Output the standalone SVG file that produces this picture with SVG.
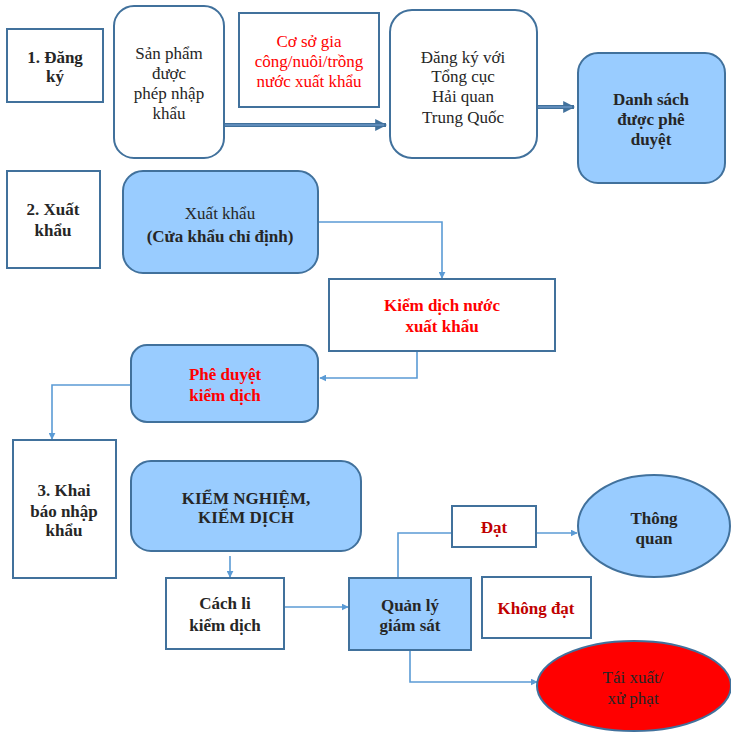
<svg xmlns="http://www.w3.org/2000/svg" width="731" height="732" viewBox="0 0 731 732" font-family="'Liberation Serif', 'DejaVu Serif', serif">
<style>
.box{fill:#ffffff;stroke:#41719C;stroke-width:2}
.blue{fill:#99CCFF;stroke:#41719C;stroke-width:2}
.red{fill:#FF0000;stroke:#41719C;stroke-width:2}
text{font-family:'Liberation Serif','DejaVu Serif',serif;font-size:17px;text-anchor:middle;fill:#262626}
.b{font-weight:bold}
.r{fill:#FF0000}
.dr{fill:#C00000}
.conn{fill:none;stroke:#5B9BD5;stroke-width:1.6}
.dbl{fill:none;stroke:#41719C;stroke-width:4}
.dbli{fill:none;stroke:#7FA8D8;stroke-width:1}
</style>
<defs>
<marker id="ah" viewBox="0 0 10 10" refX="9" refY="5" markerWidth="7" markerHeight="7" markerUnits="userSpaceOnUse" orient="auto">
<path d="M0,0 L10,5 L0,10 z" fill="#5B9BD5"/>
</marker>
<marker id="ah2" viewBox="0 0 10 10" refX="9" refY="5" markerWidth="3" markerHeight="3" orient="auto">
<path d="M0,0 L10,5 L0,10 z" fill="#41719C"/>
</marker>
</defs>

<g id="connectors">
<line class="dbl" x1="225" y1="125" x2="386" y2="125" marker-end="url(#ah2)"/>
<line class="dbli" x1="225" y1="125" x2="384" y2="125"/>
<line class="dbl" x1="538" y1="107" x2="574" y2="107" marker-end="url(#ah2)"/>
<line class="dbli" x1="538" y1="107" x2="572" y2="107"/>
<path class="conn" d="M310,222 H442 V278" marker-end="url(#ah)"/>
<path class="conn" d="M417,351 V378 H320" marker-end="url(#ah)"/>
<path class="conn" d="M131,385 H52 V439" marker-end="url(#ah)"/>
<path class="conn" d="M230,556 V577" marker-end="url(#ah)"/>
<path class="conn" d="M285,607 H348" marker-end="url(#ah)"/>
<path class="conn" d="M398,578 V533 H452"/>
<path class="conn" d="M536,533 H577" marker-end="url(#ah)"/>
<path class="conn" d="M410,650 V682 H537" marker-end="url(#ah)"/>
</g>

<g id="step1">
<rect class="box" x="7" y="29" width="96" height="73"/>
<text class="b" x="55" y="63">1. Đăng</text>
<text class="b" x="55" y="82">ký</text>
</g>
<g id="san-pham">
<rect class="box" x="114" y="6" width="110" height="152" rx="20"/>
<text x="169" y="59">Sản phẩm</text>
<text x="169" y="79">được</text>
<text x="169" y="99">phép nhập</text>
<text x="169" y="119">khẩu</text>
</g>
<g id="co-so">
<rect class="box" x="239" y="13" width="140" height="94"/>
<text class="r" x="309" y="47">Cơ sở gia</text>
<text class="r" x="309" y="67">công/nuôi/trồng</text>
<text class="r" x="309" y="87">nước xuất khẩu</text>
</g>
<g id="dang-ky">
<rect class="box" x="390" y="10" width="147" height="148" rx="22"/>
<text x="463" y="63">Đăng ký với</text>
<text x="463" y="82">Tổng cục</text>
<text x="463" y="102">Hải quan</text>
<text x="463" y="123">Trung Quốc</text>
</g>
<g id="danh-sach">
<rect class="blue" x="578" y="53" width="147" height="130" rx="20"/>
<text class="b" x="651" y="105">Danh sách</text>
<text class="b" x="651" y="125">được phê</text>
<text class="b" x="651" y="145">duyệt</text>
</g>

<g id="step2">
<rect class="box" x="7" y="171" width="93" height="97"/>
<text class="b" x="53" y="215">2. Xuất</text>
<text class="b" x="53" y="236">khẩu</text>
</g>
<g id="xuat-khau">
<rect class="blue" x="123" y="171" width="195" height="102" rx="20"/>
<text x="220" y="219">Xuất khẩu</text>
<text class="b" x="220" y="242">(Cửa khẩu chỉ định)</text>
</g>
<g id="kiem-dich-nuoc">
<rect class="box" x="329" y="279" width="226" height="72"/>
<text class="b r" x="442" y="311">Kiểm dịch nước</text>
<text class="b r" x="442" y="332">xuất khẩu</text>
</g>
<g id="phe-duyet">
<rect class="blue" x="131" y="345" width="187" height="77" rx="16"/>
<text class="b r" x="225" y="380">Phê duyệt</text>
<text class="b r" x="225" y="401">kiểm dịch</text>
</g>

<g id="step3">
<rect class="box" x="13" y="440" width="103" height="138"/>
<text class="b" x="64" y="496">3. Khai</text>
<text class="b" x="64" y="517">báo nhập</text>
<text class="b" x="64" y="536">khẩu</text>
</g>
<g id="kiem-nghiem">
<rect class="blue" x="131" y="461" width="230" height="90" rx="20"/>
<text class="b" x="246" y="504">KIỂM NGHIỆM,</text>
<text class="b" x="246" y="523">KIỂM DỊCH</text>
</g>
<g id="cach-li">
<rect class="box" x="166" y="578" width="118" height="71"/>
<text class="b" x="225" y="609">Cách li</text>
<text class="b" x="225" y="631">kiểm dịch</text>
</g>
<g id="quan-ly">
<rect class="blue" x="349" y="578" width="122" height="72"/>
<text class="b" x="410" y="611">Quản lý</text>
<text class="b" x="410" y="631">giám sát</text>
</g>
<g id="dat">
<rect class="box" x="452" y="506" width="84" height="41"/>
<text class="b dr" x="494" y="533">Đạt</text>
</g>
<g id="thong-quan">
<ellipse class="blue" cx="654" cy="526" rx="76" ry="51"/>
<text class="b" x="654" y="524">Thông</text>
<text class="b" x="654" y="544">quan</text>
</g>
<g id="khong-dat">
<rect class="box" x="482" y="577" width="109" height="61"/>
<text class="b dr" x="536" y="614">Không đạt</text>
</g>
<g id="tai-xuat">
<ellipse class="red" cx="634" cy="686" rx="97" ry="45"/>
<text x="633" y="683">Tái xuất/</text>
<text x="633" y="704">xử phạt</text>
</g>
</svg>
